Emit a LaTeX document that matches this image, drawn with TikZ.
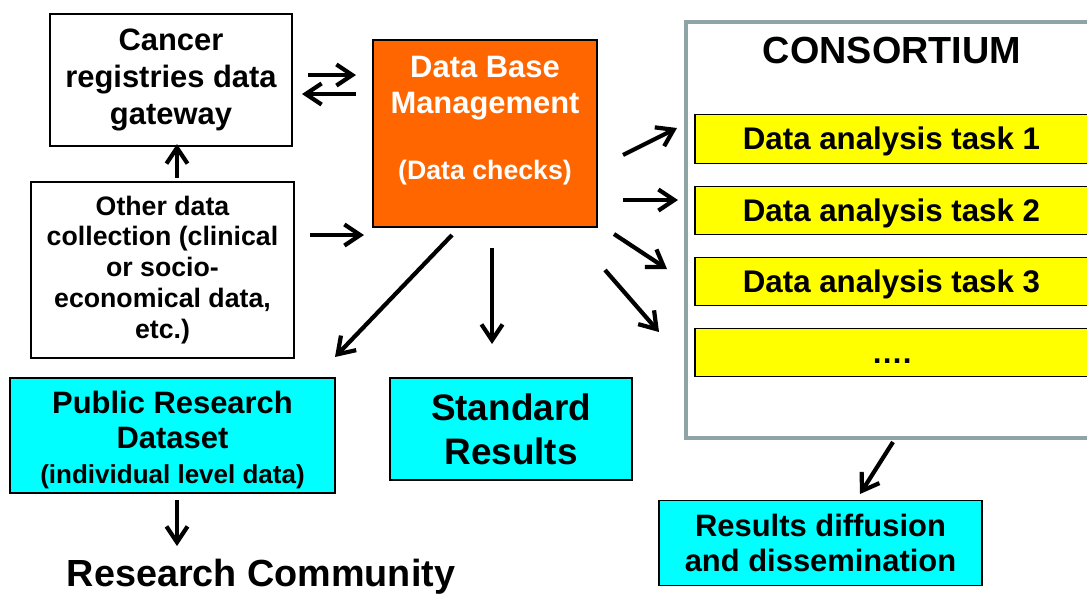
\documentclass[tikz,border=0pt]{standalone}
\usepackage{fontspec}
\setmainfont{Liberation Sans}
\usetikzlibrary{arrows.meta}
\definecolor{dbmorange}{HTML}{FF6600}
\definecolor{outcyan}{HTML}{00FFFF}
\definecolor{taskyellow}{HTML}{FFFF00}
\definecolor{consgray}{HTML}{8FA5A5}
\tikzset{
  box/.style={draw=black, line width=0.8pt, align=center, inner sep=0pt},
  arr/.style={line width=2.4pt, -{Straight Barb[length=9pt,width=12pt]}},
  taskbox/.style={box, fill=taskyellow, minimum width=7.86cm, minimum height=0.97cm,
    text height=12.5pt, text depth=0pt, font=\bfseries\fontsize{17.8}{20}\selectfont},
  outbox/.style={box, fill=outcyan}
}
\begin{document}
\begin{tikzpicture}[x=0.02cm, y=-0.02cm]
  \useasboundingbox (0,0) rectangle (1087,593);
  \clip (0,0) rectangle (1087,593);
  \node[box, minimum width=4.84cm, minimum height=2.64cm,
    font=\bfseries\fontsize{17.6}{21}\selectfont]
    (gateway) at (171,80) {Cancer\\registries data\\gateway};
  \node[box, minimum width=5.26cm, minimum height=3.52cm,
    font=\bfseries\fontsize{15.2}{17.6}\selectfont]
    (othercoll) at (162.5,270) {Other data\\collection (clinical\\or socio-\\economical data,\\etc.)};
  \node[box, fill=dbmorange, minimum width=4.48cm, minimum height=3.74cm] (dbm) at (485,133.5) {};
  \node[text=white, align=center, font=\bfseries\fontsize{17.6}{20}\selectfont]
    (dbmtext) at (485,121) {Data Base\\Management\\[18pt]{\fontsize{15.2}{17}\selectfont (Data checks)}};
  \node[draw=consgray, line width=2.3pt, minimum width=8.12cm, minimum height=8.32cm,
    inner sep=0pt] (consortium) at (889,230) {};
  \node[font=\bfseries\fontsize{21.5}{25}\selectfont] (constitle) at (892,50) {CONSORTIUM};
  \node[taskbox] (task1) at (891.5,139) {Data analysis task 1};
  \node[taskbox] (task2) at (891.5,210.5) {Data analysis task 2};
  \node[taskbox] (task3) at (891.5,281.5) {Data analysis task 3};
  \node[taskbox] (taskdots) at (891.5,352.5) {….};
  \node[outbox, minimum width=6.5cm, minimum height=2.3cm] (public) at (172.5,435.5) {};
  \node[align=center, font=\bfseries\fontsize{17.6}{20}\selectfont]
    (publictext) at (172.5,440) {Public Research\\Dataset\\{\fontsize{14.8}{17}\selectfont (individual level data)}};
  \node[outbox, minimum width=4.84cm, minimum height=2.04cm,
    font=\bfseries\fontsize{21}{25}\selectfont]
    (standard) at (511,429) {Standard\\Results};
  \node[outbox, minimum width=6.46cm, minimum height=1.7cm,
    font=\bfseries\fontsize{17.6}{20.4}\selectfont]
    (diffusion) at (820.5,543) {Results diffusion\\and dissemination};
  \node[font=\bfseries\fontsize{21.5}{25}\selectfont] (community) at (261,577) {Research Community};
  % arrow ends
  \coordinate (gwoutA) at (308,75);  \coordinate (gwoutB) at (356,75);
  \coordinate (gwinA) at (356,94);   \coordinate (gwinB) at (302,94);
  \coordinate (ocupA) at (177,178);  \coordinate (ocupB) at (177,144);
  \coordinate (ocrtA) at (310,235);  \coordinate (ocrtB) at (364,235);
  \coordinate (pubA) at (452,235);   \coordinate (pubB) at (335,357);
  \coordinate (stdA) at (492,248);   \coordinate (stdB) at (492,344);
  \coordinate (t1A) at (623,155);    \coordinate (t1B) at (677,128);
  \coordinate (t2A) at (623,200);    \coordinate (t2B) at (678,200);
  \coordinate (t3A) at (614,234);    \coordinate (t3B) at (667,269);
  \coordinate (t4A) at (605,270);    \coordinate (t4B) at (659,332);
  \coordinate (difA) at (893,442);   \coordinate (difB) at (860,494);
  \coordinate (comA) at (177,500);   \coordinate (comB) at (177,546);
  \begin{scope}[arr]
    \draw (gwoutA) -- (gwoutB);
    \draw (gwinA) -- (gwinB);
    \draw (ocupA) -- (ocupB);
    \draw (ocrtA) -- (ocrtB);
    \draw (pubA) -- (pubB);
    \draw (stdA) -- (stdB);
    \draw (t1A) -- (t1B);
    \draw (t2A) -- (t2B);
    \draw (t3A) -- (t3B);
    \draw (t4A) -- (t4B);
    \draw (difA) -- (difB);
    \draw (comA) -- (comB);
  \end{scope}
\end{tikzpicture}
\end{document}
